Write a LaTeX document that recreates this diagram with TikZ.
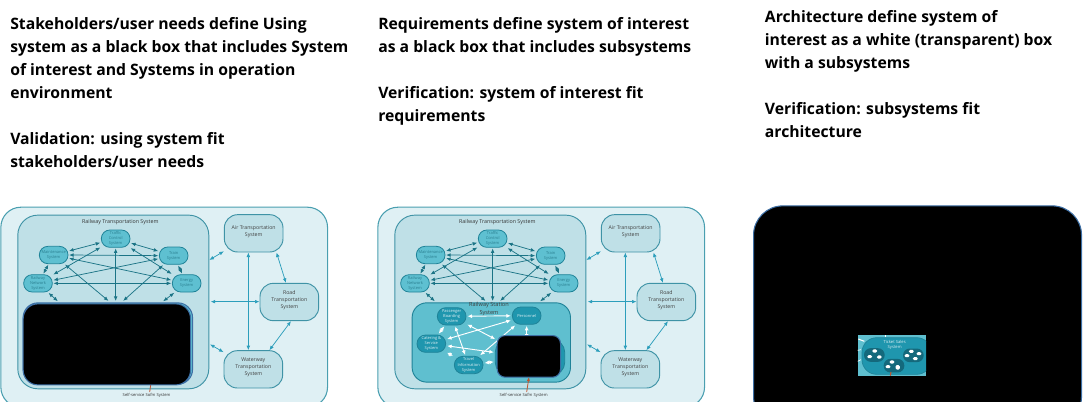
\documentclass[tikz,border=0pt]{standalone}
\usepackage{fontspec}
\setmainfont{Open Sans}
\usetikzlibrary{arrows.meta,calc}
\definecolor{outerfill}{HTML}{DFF0F4}
\definecolor{outerline}{HTML}{4A9FB0}
\definecolor{railfill}{HTML}{BFE0E7}
\definecolor{railline}{HTML}{3F93A6}
\definecolor{subfill}{HTML}{5EC0D1}
\definecolor{subline}{HTML}{1F8398}
\definecolor{subtext}{HTML}{2A7F90}
\definecolor{statfill}{HTML}{5FBFCF}
\definecolor{innerfill}{HTML}{1F96AE}
\definecolor{darkfill}{HTML}{14697C}
\definecolor{arrdark}{HTML}{1B7486}
\definecolor{arrlight}{HTML}{2C9EBB}
\definecolor{boxblue}{HTML}{3D6FA5}
\definecolor{redline}{HTML}{C2542D}
\tikzset{
  headtxt/.style={anchor=north west,inner sep=0pt,align=left,text=black,
    font=\bfseries\fontsize{11.8}{17.2}\selectfont},
  outerbox/.style={draw=outerline,line width=.8pt,fill=outerfill,rounded corners=15pt,inner sep=0pt,anchor=north west},
  railbox/.style={draw=railline,line width=.7pt,fill=railfill,rounded corners=15pt,inner sep=0pt,anchor=north west},
  peer/.style={draw=railline,line width=.7pt,fill=railfill,rounded corners=10pt,inner sep=0pt,align=center,
    minimum width=44pt,minimum height=28pt,text=black!75,text depth=4pt,font=\fontsize{3.9}{5.3}\selectfont},
  subsys/.style={draw=subline,line width=.6pt,fill=subfill,rounded corners=6.4pt,inner sep=0pt,align=center,
    minimum width=21.5pt,minimum height=13pt,text=subtext,font=\fontsize{3}{3.9}\selectfont},
  innersys/.style={draw=subline,line width=.6pt,fill=innerfill,rounded corners=6.4pt,inner sep=0pt,align=center,
    minimum width=21.5pt,minimum height=13pt,text=white!85!innerfill,font=\fontsize{3}{3.9}\selectfont},
  statbox/.style={draw=subline,line width=.7pt,fill=statfill,rounded corners=11pt,inner sep=0pt,anchor=north west},
  blackbox/.style={draw=boxblue,line width=.8pt,fill=black,inner sep=0pt,anchor=north west},
  captext/.style={inner sep=0pt,text=black!80,font=\fontsize{3.1}{4}\selectfont},
  arrd/.style={draw=arrdark,line width=.55pt,{Latex[length=3.4pt,width=2.8pt]}-{Latex[length=3.4pt,width=2.8pt]},shorten >=.5pt,shorten <=.5pt},
  arrl/.style={draw=arrlight,line width=.55pt,{Latex[length=3.4pt,width=2.8pt]}-{Latex[length=3.4pt,width=2.8pt]}},
  arrw/.style={draw=white,line width=.7pt,{Latex[length=3.4pt,width=3pt]}-{Latex[length=3.4pt,width=3pt]},shorten >=.8pt,shorten <=.8pt},
  redl/.style={draw=redline,line width=.6pt},
  blob/.style={fill=white,draw=none,rounded corners=1pt,inner sep=0pt,minimum width=3.6pt,minimum height=2.3pt},
  darksub/.style={fill=darkfill,draw=none,rounded corners=5pt,inner sep=0pt,minimum width=15.5pt,minimum height=10.2pt},
  diagram/.style={x=.25pt,y=-.25pt},
}
% common part of the two system diagrams, in 3x-zoom units
\newcommand{\sysbase}[1]{%
  \node[outerbox,minimum width=245pt,minimum height=150pt] (#1outer) at (1,20) {};
  \node[railbox,minimum width=143.25pt,minimum height=130.25pt] (#1rail) at (52,44) {};
  \node[captext,font=\fontsize{4}{5}\selectfont] (#1railt) at (361,67) {Railway Transportation System};
  \node[peer] (#1air) at (761,100) {Air Transportation\\System};
  \node[peer] (#1road) at (868,306) {Road\\Transportation\\System};
  \node[peer] (#1water) at (760,508) {Waterway\\Transportation\\System};
  \node[subsys] (#1traffic) at (347,116) {Traffic\\Control\\System};
  \node[subsys] (#1maint) at (161,165) {Maintenance\\System};
  \node[subsys] (#1train) at (521,167) {Train\\System};
  \node[subsys] (#1net) at (114,250) {Railway\\Network\\System};
  \node[subsys] (#1energy) at (560,250) {Energy\\System};
  \coordinate (#1sa) at (175,305);
  \coordinate (#1sb) at (327,304);
  \coordinate (#1sc) at (347,305);
  \coordinate (#1sd) at (368,304);
  \coordinate (#1se) at (488,305);
  \draw[arrd] (#1maint) -- (#1traffic);
  \draw[arrd] (#1traffic) -- (#1train);
  \draw[arrd] (#1train) -- (#1energy);
  \draw[arrd] (#1maint) -- (#1net);
  \draw[arrd] (#1maint.east) -- (#1train.west);
  \draw[arrd] (#1net.east) -- (#1energy.west);
  \draw[arrd] (#1maint) -- (#1energy);
  \draw[arrd] (#1net) -- (#1train);
  \draw[arrd] (#1net) -- (#1traffic);
  \draw[arrd] (#1traffic) -- (#1energy);
  \draw[arrd] (#1net) -- (#1sa);
  \draw[arrd] (#1maint) -- (#1sb);
  \draw[arrd] (#1traffic) -- (#1sc);
  \draw[arrd] (#1train) -- (#1sd);
  \draw[arrd] (#1energy) -- (#1se);
  \coordinate (#1ra) at (628,180);
  \coordinate (#1rb) at (632,305);
  \coordinate (#1rc) at (630,433);
  \draw[arrl] (#1ra) -- (#1air);
  \draw[arrl] (#1rb) -- (#1road.west |- #1rb);
  \draw[arrl] (#1rc) -- (#1water);
  \draw[arrl] ($(#1air.south)+(-16,0)$) -- ($(#1water.north)+(-15,0)$);
  \draw[arrl] (#1air.320) -- (#1road.100);
  \draw[arrl] (#1road.275) -- (#1water.50);
  \node[captext] (#1self) at (440,586) {Self-service Sofm System};
}
\begin{document}
\begin{tikzpicture}
\useasboundingbox (0,0) rectangle (813.75pt,-300.75pt);
\clip (0,0) rectangle (813.75pt,-300.75pt);
\node[headtxt] (h1) at (7.5pt,-13pt) {Stakeholders/user needs define Using\\system as a black box that includes System\\of interest and Systems in operation\\environment\\\mbox{}\\Validation: using system fit\\stakeholders/user needs};
\node[headtxt] (h2) at (283.5pt,-13pt) {Requirements define system of interest\\as a black box that includes subsystems\\\mbox{}\\Verification: system of interest fit\\requirements};
\node[headtxt] (h3) at (573.5pt,-8pt) {Architecture define system of\\interest as a white (transparent) box\\with a subsystems\\\mbox{}\\Verification: subsystems fit\\architecture};
% diagram 1
\begin{scope}[shift={(0pt,-150pt)},diagram]
  \sysbase{a}
  \coordinate (ared1) at (452,555);
  \coordinate (ared2) at (449,576);
  \draw[redl] (ared1) -- (ared2);
  \node[draw=boxblue,line width=.8pt,fill=subfill,rounded corners=11pt,inner sep=0pt,anchor=north west,minimum width=127pt,minimum height=61pt] (abacking) at (68,307) {};
  \node[blackbox,rounded corners=11pt,minimum width=125.5pt,minimum height=60.75pt] (ablack) at (68,310) {};
\end{scope}
% diagram 2
\begin{scope}[shift={(282.75pt,-150pt)},diagram]
  \sysbase{b}
  \node[statbox,minimum width=118.75pt,minimum height=59.5pt] (bstation) at (104,307) {};
  \node[captext,text=black!75,font=\fontsize{4.2}{5}\selectfont,align=center] (bstatt) at (336,326) {Railway Station\\[1pt]System};
  \node[innersys] (bpass) at (224,349) {Passenger\\Boarding\\System};
  \node[innersys] (bpers) at (449,347) {Personnel};
  \node[innersys] (bcat) at (163,431) {Catering \&\\Service\\System};
  \node[innersys] (btrav) at (275,495) {Travel\\Information\\System};
  \node[innersys,rounded corners=9pt,minimum width=52pt,minimum height=26pt] (bticket) at (459,472) {};
  \draw[arrw] (bpass) -- (bpers);
  \draw[arrw] (bpass) -- (bcat);
  \draw[arrw] (bpass) -- (btrav);
  \draw[arrw] (bpers) -- (bcat);
  \draw[arrw] (bpers) -- (btrav);
  \draw[arrw] (bpers) -- (bticket.north -| bpers);
  \draw[arrw] (bpass) -- (bticket);
  \draw[arrw] (bcat) -- (bticket);
  \draw[arrw] (bcat) -- (btrav);
  \draw[arrw] (btrav) -- (bticket);
  \node[blackbox,rounded corners=6pt,minimum width=47.5pt,minimum height=31.25pt] (bblack) at (359,405) {};
  \coordinate (bredtop) at (456,531);
  \coordinate (bredbot) at (449,576);
  \draw[redl,-{Latex[length=3pt,width=2.4pt]}] (bredbot) -- (bredtop);
\end{scope}
% diagram 3
\begin{scope}[shift={(558.75pt,-150pt)},diagram]
  \node[blackbox,rounded corners=22pt,minimum width=246pt,minimum height=165pt] (cblack) at (24,16) {};
  \node[fill=statfill,inner sep=0pt,anchor=north west,minimum width=51.25pt,minimum height=30.5pt] (cinset) at (338,405) {};
  \begin{scope}
    \clip (338,405) rectangle (543,527);
    \node[fill=innerfill,draw=subline,line width=.5pt,rounded corners=11pt,inner sep=0pt,anchor=north west,minimum width=52pt,minimum height=27.5pt] (cticket) at (350,412) {};
    \node[darksub] (cs1) at (388,465) {};
    \node[darksub] (cs2) at (447,497) {};
    \node[darksub] (cs3) at (505,466) {};
    \node[blob] (cb1) at (389,453) {};
    \node[blob] (cb2) at (374,470) {};
    \node[blob] (cb3) at (403,471) {};
    \node[blob] (cb4) at (441,486) {};
    \node[blob] (cb5) at (429,500) {};
    \node[blob,minimum width=3.2pt,minimum height=3.4pt] (cb6) at (458,502) {};
    \node[blob] (cb7) at (499,454) {};
    \node[blob] (cb8) at (522,461) {};
    \node[blob] (cb9) at (486,467) {};
    \node[blob] (cb10) at (511,476) {};
    \node[captext,text=white!85!innerfill] (ct1) at (449,425) {Ticket Sales};
    \node[captext,text=white!85!innerfill] (ct2) at (449,442) {System};
    \coordinate (cw1) at (358,424);
    \coordinate (cw2) at (340,417);
    \draw[white,line width=.8pt] (cw1) -- (cw2);
    \coordinate (cw3) at (422,405);
    \coordinate (cw4) at (422,410);
    \draw[white,line width=.5pt] (cw3) -- (cw4);
    \coordinate (cw5) at (338,451);
    \coordinate (cw6) at (348,449);
    \draw[white,line width=.5pt] (cw5) -- (cw6);
    \coordinate (cw7) at (338,484);
    \coordinate (cw8) at (348,479);
    \draw[white,line width=.5pt] (cw7) -- (cw8);
    \coordinate (cr1) at (438,516);
    \coordinate (cr2) at (436,527);
    \draw[redl,line width=.8pt] (cr1) -- (cr2);
  \end{scope}
\end{scope}
\end{tikzpicture}
\end{document}
